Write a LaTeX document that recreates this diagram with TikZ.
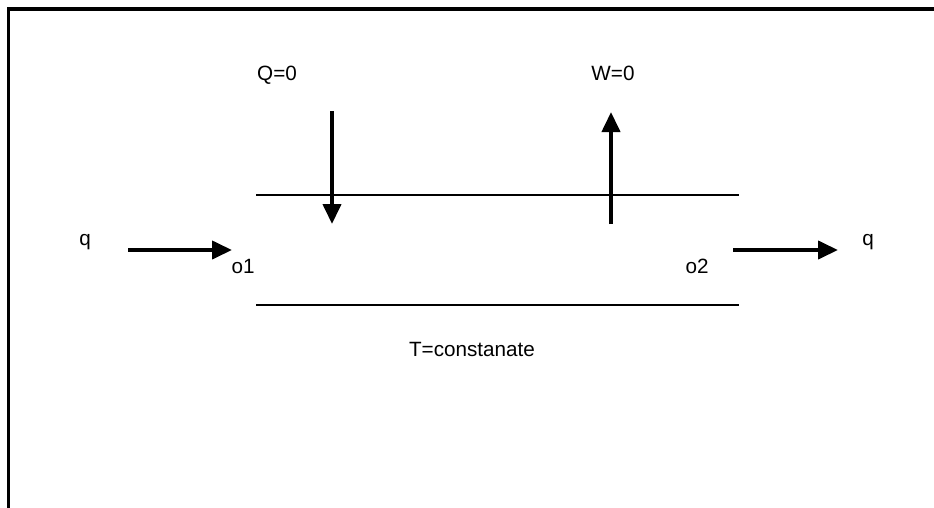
\documentclass[tikz,border=0pt]{standalone}
\usepackage{fontspec}
\setmainfont{Liberation Sans}
\usetikzlibrary{arrows.meta}
\begin{document}
\begin{tikzpicture}[x=0.75pt,y=-0.75pt,
  lbl/.style={inner sep=0pt,anchor=base,font=\fontsize{15.5}{18}\selectfont},
  flow/.style={line width=3pt,-{Triangle[length=15pt,width=13.5pt]}},
  wall/.style={line width=1.4pt},
  frame/.style={line width=2.4pt,line cap=rect}]
\useasboundingbox (0,0) rectangle (934,507);
% frame
\coordinate (fa) at (8.5,507);
\coordinate (fb) at (8.5,9);
\coordinate (fc) at (934,9);
\draw[frame] (fa) -- (fb) -- (fc);
% pipe walls
\coordinate (u1) at (256,195);
\coordinate (u2) at (739,195);
\coordinate (l1) at (256,305);
\coordinate (l2) at (739,305);
\draw[wall] (u1) -- (u2);
\draw[wall] (l1) -- (l2);
% labels
\node[lbl] (Q) at (277,80) {Q=0};
\node[lbl] (W) at (613,80) {W=0};
\node[lbl] (qin) at (85,245) {q};
\node[lbl] (qout) at (868,245) {q};
\node[lbl] (o1) at (243,273) {o1};
\node[lbl] (o2) at (697,273) {o2};
\node[lbl] (T) at (472,356) {T=constanate};
% arrows
\coordinate (qa) at (332,111);
\coordinate (qb) at (332,224);
\coordinate (wa) at (611,224);
\coordinate (wb) at (611,112);
\coordinate (ia) at (128,250);
\coordinate (ib) at (232,250);
\coordinate (ea) at (733,250);
\coordinate (eb) at (838,250);
\draw[flow] (qa) -- (qb);
\draw[flow] (wa) -- (wb);
\draw[flow] (ia) -- (ib);
\draw[flow] (ea) -- (eb);
\end{tikzpicture}
\end{document}
